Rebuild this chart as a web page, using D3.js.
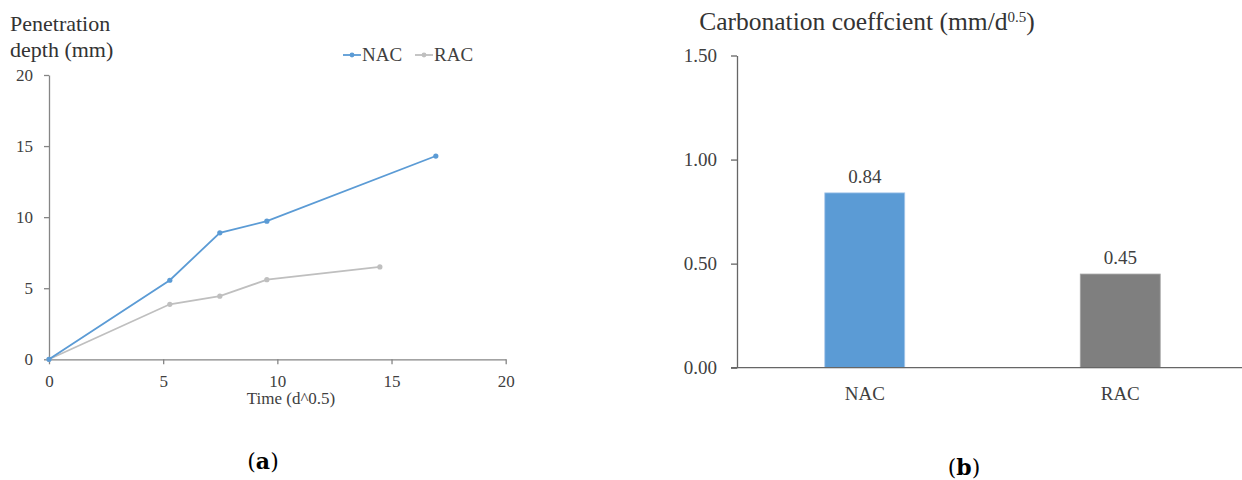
<!DOCTYPE html>
<html>
<head>
<meta charset="utf-8">
<script src="https://cdn.jsdelivr.net/npm/d3@7"></script>
<style>
  body { margin: 0; background: #fff; }
  svg text { font-family: "Liberation Serif", "Times New Roman", Times, serif; }
  .axis path, .axis line { stroke: #858585; stroke-width: 1.3; }
  .axis text { fill: #404040; }
  .axisB path, .axisB line { stroke: #666; }
</style>
</head>
<body>
<svg id="chart" width="1242" height="480"></svg>
<script>
// (a) penetration depth vs time
var timeNAC = [0, 5.29, 7.48, 9.54, 16.94];
var depthNAC = [0, 5.56, 8.9, 9.72, 14.3];
var timeRAC = [0, 5.29, 7.48, 9.54, 14.49];
var depthRAC = [0, 3.87, 4.44, 5.6, 6.5];
var xTicksA = [0, 5, 10, 15, 20];
var yTicksA = [0, 5, 10, 15, 20];
var seriesNames = ['NAC', 'RAC'];

// (b) carbonation coefficient
var categories = ['NAC', 'RAC'];
var coefficients = [0.84, 0.45];
var yTicksB = [0, 0.5, 1.0, 1.5];

var blue = '#5b9bd5';
var lightGray = '#bfbfbf';
var darkGray = '#7f7f7f';
var serif = '"Liberation Serif", "Times New Roman", Times, serif';

var svg = d3.select('#chart');

/* ---------- left chart ---------- */
var xA = d3.scaleLinear().domain([0, 20]).range([49, 505.7]);
var yA = d3.scaleLinear().domain([0, 20]).range([359.3, 75]);

svg.append('g')
    .attr('class', 'axis')
    .attr('transform', 'translate(0,' + yA(0) + ')')
    .call(d3.axisBottom(xA).tickValues(xTicksA).tickSizeInner(5).tickSizeOuter(0).tickPadding(11))
    .selectAll('text').style('font-size', '17px').style('font-family', serif);

svg.append('g')
    .attr('class', 'axis')
    .attr('transform', 'translate(' + xA(0) + ',0)')
    .call(d3.axisLeft(yA).tickValues(yTicksA).tickSizeInner(5).tickSizeOuter(0).tickPadding(11))
    .selectAll('text').style('font-size', '17px').style('font-family', serif);

svg.append('text')
    .attr('x', 10).attr('y', 31)
    .style('font-size', '22px').style('fill', '#333').style('font-family', serif)
    .text('Penetration');
svg.append('text')
    .attr('x', 10).attr('y', 57)
    .style('font-size', '22px').style('fill', '#333').style('font-family', serif)
    .text('depth (mm)');

svg.append('text')
    .attr('x', 291).attr('y', 404)
    .attr('text-anchor', 'middle')
    .style('font-size', '17px').style('fill', '#404040').style('font-family', serif)
    .text('Time (d^0.5)');

var lineA = d3.line()
    .x(function(d) { return xA(d[0]); })
    .y(function(d) { return yA(d[1]); });

var series = [
    { name: seriesNames[0], color: blue, pts: d3.zip(timeNAC, depthNAC) },
    { name: seriesNames[1], color: lightGray, pts: d3.zip(timeRAC, depthRAC) }
];

// RAC first so NAC sits on top
series.slice().reverse().forEach(function(s) {
    svg.append('path')
        .datum(s.pts)
        .attr('d', lineA)
        .attr('fill', 'none')
        .attr('stroke', s.color)
        .attr('stroke-width', 1.8);
    svg.selectAll(null)
        .data(s.pts)
        .enter().append('circle')
        .attr('cx', function(d) { return xA(d[0]); })
        .attr('cy', function(d) { return yA(d[1]); })
        .attr('r', 2.6)
        .attr('fill', s.color);
});

// legend
var legendX = [343, 415];
series.forEach(function(s, i) {
    var g = svg.append('g').attr('transform', 'translate(' + legendX[i] + ',55)');
    g.append('line').attr('x1', 0).attr('x2', 18).attr('y1', 0).attr('y2', 0)
        .attr('stroke', s.color).attr('stroke-width', 1.8);
    g.append('circle').attr('cx', 9).attr('cy', 0).attr('r', 2.4).attr('fill', s.color);
    g.append('text').attr('x', 19).attr('y', 6)
        .style('font-size', '19px').style('fill', '#404040').style('font-family', serif)
        .text(s.name);
});

/* ---------- right chart ---------- */
var xB = d3.scaleBand().domain(categories).range([737, 1248])
    .paddingInner(0.687).paddingOuter(0.3435);
var yB = d3.scaleLinear().domain([0, 1.5]).range([367.7, 55.5]);

svg.append('g')
    .attr('class', 'axis axisB')
    .attr('transform', 'translate(' + xB.range()[0] + ',0)')
    .call(d3.axisLeft(yB).tickValues(yTicksB).tickFormat(d3.format('.2f'))
        .tickSizeInner(6).tickSizeOuter(0).tickPadding(14))
    .selectAll('text').style('font-size', '19px').style('font-family', serif);

svg.selectAll('.bar')
    .data(coefficients)
    .enter().append('rect')
    .attr('class', 'bar')
    .attr('x', function(d, i) { return xB(categories[i]); })
    .attr('y', function(d) { return yB(d); })
    .attr('width', xB.bandwidth())
    .attr('height', function(d) { return yB(0) - yB(d); })
    .attr('fill', function(d, i) { return i == 0 ? blue : darkGray; })
    .attr('stroke', function(d, i) { return i == 0 ? '#a9c9ea' : '#a6a6a6'; })
    .attr('stroke-width', 0.8);

svg.selectAll('.val')
    .data(coefficients)
    .enter().append('text')
    .attr('class', 'val')
    .attr('x', function(d, i) { return xB(categories[i]) + xB.bandwidth() / 2; })
    .attr('y', function(d) { return yB(d) - 10; })
    .attr('text-anchor', 'middle')
    .style('font-size', '19px').style('fill', '#404040').style('font-family', serif)
    .text(function(d) { return d3.format('.2f')(d); });

var xAxisB = svg.append('g')
    .attr('class', 'axis axisB')
    .attr('transform', 'translate(0,' + yB(0) + ')')
    .call(d3.axisBottom(xB).tickSize(0).tickPadding(19));
xAxisB.selectAll('text').style('font-size', '19px').style('font-family', serif);
xAxisB.select('.domain').attr('d', 'M731,0H1248');

var title = svg.append('text')
    .attr('x', 867).attr('y', 30)
    .attr('text-anchor', 'middle')
    .style('font-size', '25.5px').style('fill', '#333').style('font-family', serif);
title.append('tspan').text('Carbonation coeffcient (mm/d');
title.append('tspan').attr('dy', -8).style('font-size', '15px').text('0.5');
title.append('tspan').attr('dy', 8).text(')');

/* ---------- captions ---------- */
function caption(x, y, letter) {
    var t = svg.append('text').attr('x', x).attr('y', y)
        .attr('text-anchor', 'middle')
        .style('font-family', '"DejaVu Serif", serif')
        .style('font-size', '22px').style('fill', '#000');
    t.append('tspan').text('(');
    t.append('tspan').style('font-weight', 'bold').text(letter);
    t.append('tspan').text(')');
}
caption(263, 469, 'a');
caption(964, 475, 'b');
</script>
</body>
</html>
